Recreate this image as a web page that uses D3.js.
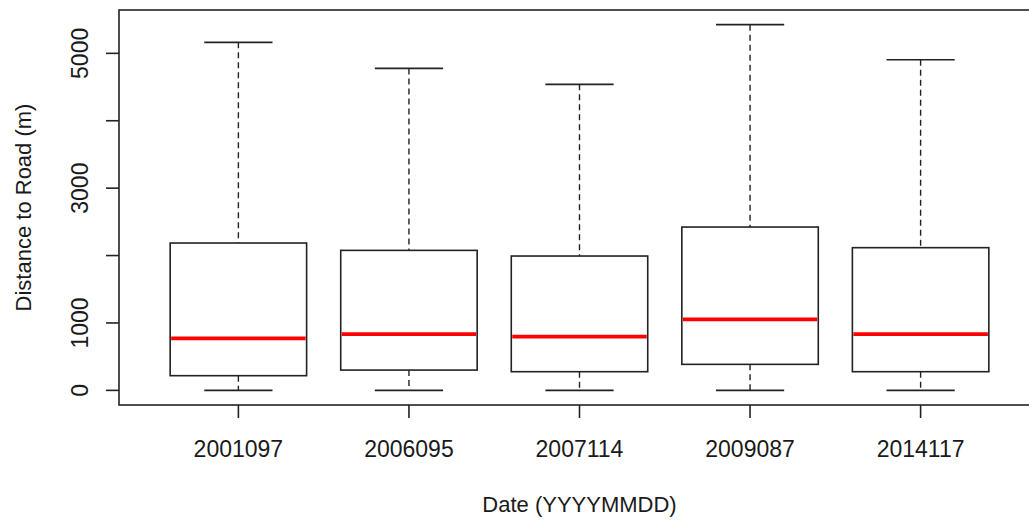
<!DOCTYPE html>
<html>
<head>
<meta charset="utf-8">
<script src="https://cdn.jsdelivr.net/npm/d3@7"></script>
<style>
  html, body { margin: 0; padding: 0; background: #fff; }
  svg { display: block; }
  text { font-family: "Liberation Sans", Arial, sans-serif; fill: #1a1a1a; }
</style>
</head>
<body>
<script>
// Distance-to-road distributions per acquisition date
const dates = ["2001097", "2006095", "2007114", "2009087", "2014117"];
const whiskerLow  = [0, 0, 0, 0, 0];
const quartile1   = [218, 301, 277, 386, 277];
const medians     = [771, 835, 797, 1053, 835];
const quartile3   = [2186, 2077, 1993, 2423, 2117];
const whiskerHigh = [5163, 4777, 4540, 5426, 4906];
const yTicks      = [0, 1000, 2000, 3000, 4000, 5000];
const yTickLabels = ["0", "1000", "", "3000", "", "5000"];

const W = 1029, H = 520;
const frame = { left: 119, right: 1040, top: 10, bottom: 405 };

const svg = d3.select("body").append("svg").attr("width", W).attr("height", H);

// x positions 1..n with base-R style 4% padding around [0.5, n+0.5]
const n = dates.length;
const xlo = 0.5, xhi = n + 0.5, xpad = 0.04 * (xhi - xlo);
const x = d3.scaleLinear().domain([xlo - xpad, xhi + xpad]).range([frame.left, frame.right]);

const ylo = d3.min(whiskerLow), yhi = d3.max(whiskerHigh), ypad = 0.04 * (yhi - ylo);
const y = d3.scaleLinear().domain([ylo - ypad, yhi + ypad]).range([frame.bottom, frame.top]);

const boxW = 0.8, capW = 0.4;
const ink = "#222";

const rows = dates.map((d, i) => ({
  d, i: i + 1,
  lo: whiskerLow[i], q1: quartile1[i], med: medians[i], q3: quartile3[i], hi: whiskerHigh[i]
}));

const g = svg.append("g");

// dashed whiskers
g.selectAll(".wh").data(rows).enter().append("line")
  .attr("x1", r => x(r.i)).attr("x2", r => x(r.i))
  .attr("y1", r => y(r.hi)).attr("y2", r => y(r.q3))
  .attr("stroke", ink).attr("stroke-width", 1.4).attr("stroke-dasharray", "6,4");
g.selectAll(".wl").data(rows).enter().append("line")
  .attr("x1", r => x(r.i)).attr("x2", r => x(r.i))
  .attr("y1", r => y(r.q1)).attr("y2", r => y(r.lo))
  .attr("stroke", ink).attr("stroke-width", 1.4).attr("stroke-dasharray", "6,4");

// staples
g.selectAll(".ch").data(rows).enter().append("line")
  .attr("x1", r => x(r.i - capW / 2)).attr("x2", r => x(r.i + capW / 2))
  .attr("y1", r => y(r.hi)).attr("y2", r => y(r.hi))
  .attr("stroke", ink).attr("stroke-width", 1.6);
g.selectAll(".cl").data(rows).enter().append("line")
  .attr("x1", r => x(r.i - capW / 2)).attr("x2", r => x(r.i + capW / 2))
  .attr("y1", r => y(r.lo)).attr("y2", r => y(r.lo))
  .attr("stroke", ink).attr("stroke-width", 1.6);

// boxes
g.selectAll(".box").data(rows).enter().append("rect")
  .attr("x", r => x(r.i - boxW / 2))
  .attr("width", r => x(r.i + boxW / 2) - x(r.i - boxW / 2))
  .attr("y", r => y(r.q3))
  .attr("height", r => y(r.q1) - y(r.q3))
  .attr("fill", "#fff").attr("stroke", ink).attr("stroke-width", 1.6);

// medians
g.selectAll(".med").data(rows).enter().append("line")
  .attr("x1", r => x(r.i - boxW / 2) + 1).attr("x2", r => x(r.i + boxW / 2) - 1)
  .attr("y1", r => y(r.med)).attr("y2", r => y(r.med))
  .attr("stroke", "#ff0000").attr("stroke-width", 3.6);

// plot frame
svg.append("rect")
  .attr("x", frame.left).attr("y", frame.top)
  .attr("width", frame.right - frame.left).attr("height", frame.bottom - frame.top)
  .attr("fill", "none").attr("stroke", ink).attr("stroke-width", 1.6);

const fsTick = 23, fsTitle = 22;

// y axis
const yAxis = svg.append("g");
yAxis.selectAll("line").data(yTicks).enter().append("line")
  .attr("x1", frame.left - 13).attr("x2", frame.left)
  .attr("y1", d => y(d)).attr("y2", d => y(d))
  .attr("stroke", ink).attr("stroke-width", 1.6);
yAxis.selectAll("text").data(yTicks.map((v, i) => ({ v, t: yTickLabels[i] })).filter(o => o.t))
  .enter().append("text")
  .attr("transform", o => `translate(${88},${y(o.v)}) rotate(-90)`)
  .attr("text-anchor", "middle")
  .style("font-size", fsTick + "px")
  .text(o => o.t);

// x axis
const xAxis = svg.append("g");
xAxis.selectAll("line").data(rows).enter().append("line")
  .attr("x1", r => x(r.i)).attr("x2", r => x(r.i))
  .attr("y1", frame.bottom).attr("y2", frame.bottom + 13)
  .attr("stroke", ink).attr("stroke-width", 1.6);
xAxis.selectAll("text").data(rows).enter().append("text")
  .attr("x", r => x(r.i)).attr("y", 457)
  .attr("text-anchor", "middle")
  .style("font-size", fsTick + "px")
  .text(r => r.d);

// axis titles
svg.append("text")
  .attr("x", (frame.left + frame.right) / 2).attr("y", 512)
  .attr("text-anchor", "middle")
  .style("font-size", fsTitle + "px")
  .text("Date (YYYYMMDD)");
svg.append("text")
  .attr("transform", `translate(31,${(frame.top + frame.bottom) / 2}) rotate(-90)`)
  .attr("text-anchor", "middle")
  .style("font-size", fsTitle + "px")
  .text("Distance to Road (m)");
</script>
</body>
</html>
